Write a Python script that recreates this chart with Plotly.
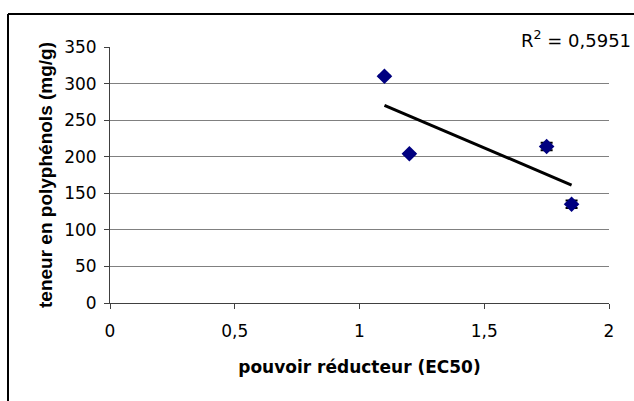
import numpy as np
import plotly.graph_objects as go

# Data
ec50 = [1.1, 1.2, 1.75, 1.85]
polyphenols = [310, 204, 214, 135]
err_y = [1, 1, 5, 5]
r2_label = "R<sup>2</sup> = 0,5951"
x_ticks = [0, 0.5, 1, 1.5, 2]
x_ticklabels = ["0", "0,5", "1", "1,5", "2"]
y_ticks = [0, 50, 100, 150, 200, 250, 300, 350]

slope, intercept = np.polyfit(ec50, polyphenols, 1)
tx = [min(ec50), max(ec50)]
ty = [slope * v + intercept for v in tx]

W, H = 634, 401
L, R, T, B = 110, 25, 47, 98
pw, ph = W - L - R, H - T - B

fig = go.Figure()
fig.add_trace(go.Scatter(
    x=ec50, y=polyphenols, mode="markers",
    marker=dict(symbol="diamond", size=12, color="#000080"),
    error_y=dict(type="data", array=err_y, color="#000000", thickness=2, width=6),
    showlegend=False))
fig.add_trace(go.Scatter(
    x=tx, y=ty, mode="lines", line=dict(color="black", width=3), showlegend=False))

dv = "DejaVu Sans, sans-serif"
ar = "Liberation Sans, Arial, sans-serif"
tick_font = dict(family=dv, size=17, color="black")
fig.update_layout(
    width=W, height=H, margin=dict(l=L, r=R, t=T, b=B),
    paper_bgcolor="white", plot_bgcolor="white",
    font=dict(family=ar, size=16, color="black"),
    xaxis=dict(range=[0, 2], tickvals=x_ticks, ticktext=x_ticklabels,
               showgrid=False, zeroline=False, showline=True, linecolor="#404040",
               linewidth=1, ticks="outside", ticklen=5, tickcolor="#404040",
               tickfont=tick_font, ticklabelstandoff=8,
               title=dict(text="<b>pouvoir réducteur (EC50)</b>", standoff=20,
                          font=dict(family=dv, size=17))),
    yaxis=dict(range=[0, 350], tickvals=y_ticks, showgrid=True, gridcolor="#808080",
               gridwidth=1, zeroline=False, showline=True, linecolor="#404040",
               linewidth=1, ticks="outside", ticklen=5, tickcolor="#404040",
               tickfont=tick_font, ticklabelstandoff=4,
               title=dict(text="<b>teneur en polyphénols (mg/g)</b>", standoff=6,
                          font=dict(family=ar, size=19))),
    annotations=[dict(text=r2_label, xref="paper", yref="paper",
                      x=(633 - L) / pw, y=(H - B - 39) / ph, xanchor="right",
                      yanchor="middle", showarrow=False,
                      font=dict(family=dv, size=18))],
    shapes=[
        dict(type="line", xref="paper", yref="paper",
             x0=(8 - L) / pw, x1=(8 - L) / pw,
             y0=(H - B - H - 10) / ph, y1=(H - B - 14) / ph,
             line=dict(color="black", width=2), layer="below"),
        dict(type="line", xref="paper", yref="paper",
             x0=(8 - L) / pw, x1=(W + 10 - L) / pw,
             y0=(H - B - 14) / ph, y1=(H - B - 14) / ph,
             line=dict(color="black", width=2), layer="below"),
    ],
)
fig.write_html("out.html")
